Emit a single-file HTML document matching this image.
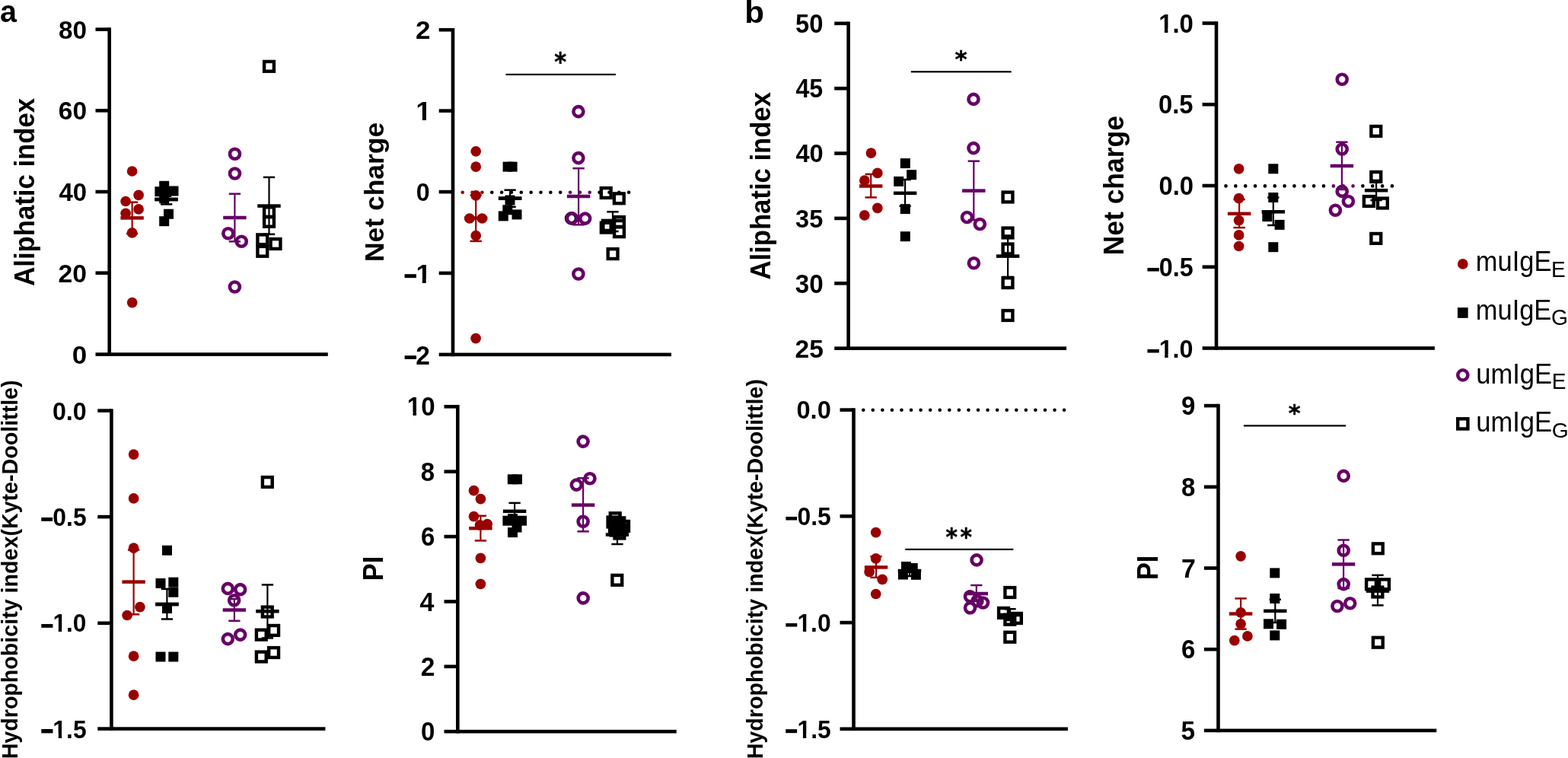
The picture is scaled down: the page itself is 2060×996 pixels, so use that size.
<!DOCTYPE html>
<html><head><meta charset="utf-8"><title>Figure</title>
<style>
html,body{margin:0;padding:0;background:#fff;}
body{width:2060px;height:996px;overflow:hidden;}
svg{display:block;}
text{font-family:"Liberation Sans",Arial,Helvetica,sans-serif;}
</style></head><body>
<svg width="2060" height="996" viewBox="0 0 2060 996">
<rect width="2060" height="996" fill="#fff"/>
<defs><clipPath id="c1" clipPathUnits="userSpaceOnUse"><rect x="-34.64" y="-69.28" width="415.65" height="64.24"/><rect x="8.07" y="-69.28" width="4.78" height="103.91"/><rect x="19.27" y="-69.28" width="415.65" height="103.91"/></clipPath><clipPath id="c2" clipPathUnits="userSpaceOnUse"><rect x="-34.64" y="-69.28" width="415.65" height="64.24"/><rect x="8.07" y="-69.28" width="4.78" height="103.91"/><rect x="19.27" y="-69.28" width="415.65" height="103.91"/></clipPath><clipPath id="c3" clipPathUnits="userSpaceOnUse"><rect x="-34.65" y="-69.3" width="415.77" height="64.26"/><rect x="8.07" y="-69.3" width="4.78" height="103.94"/><rect x="19.27" y="-69.3" width="415.77" height="103.94"/></clipPath><clipPath id="c4" clipPathUnits="userSpaceOnUse"><rect x="-33.66" y="-67.32" width="403.94" height="62.39"/><rect x="7.84" y="-67.32" width="4.65" height="100.99"/><rect x="18.72" y="-67.32" width="403.94" height="100.99"/></clipPath><clipPath id="c5" clipPathUnits="userSpaceOnUse"><rect x="-33.52" y="-67.04" width="402.25" height="62.12"/><rect x="7.81" y="-67.04" width="4.63" height="100.56"/><rect x="18.64" y="-67.04" width="402.25" height="100.56"/></clipPath><clipPath id="c6" clipPathUnits="userSpaceOnUse"><rect x="-34" y="-68" width="408" height="63.03"/><rect x="7.92" y="-68" width="4.69" height="102"/><rect x="18.91" y="-68" width="408" height="102"/></clipPath><clipPath id="c7" clipPathUnits="userSpaceOnUse"><rect x="-34.37" y="-68.73" width="412.39" height="63.73"/><rect x="8.01" y="-68.73" width="4.74" height="103.1"/><rect x="19.11" y="-68.73" width="412.39" height="103.1"/></clipPath><clipPath id="c8" clipPathUnits="userSpaceOnUse"><rect x="-33.1" y="-66.2" width="397.18" height="61.32"/><rect x="7.71" y="-66.2" width="4.57" height="99.3"/><rect x="18.41" y="-66.2" width="397.18" height="99.3"/></clipPath><clipPath id="c9" clipPathUnits="userSpaceOnUse"><rect x="-34.14" y="-68.29" width="409.71" height="63.3"/><rect x="7.96" y="-68.29" width="4.71" height="102.43"/><rect x="18.99" y="-68.29" width="409.71" height="102.43"/></clipPath></defs>
<text transform="translate(0.02 29.29) scale(0.9641 1)" font-size="40.91" font-weight="700" fill="#000000">a</text>
<text transform="translate(978.16 29.5) scale(1.0491 1)" font-size="40.2" font-weight="700" fill="#000000">b</text>
<rect x="141.4" y="36.3" width="4.6" height="431.6" fill="#000000"/>
<rect x="125.5" y="463.3" width="305.3" height="4.6" fill="#000000"/>
<rect x="125.5" y="36.3" width="18.2" height="4.6" fill="#000000"/>
<rect x="125.5" y="143" width="18.2" height="4.6" fill="#000000"/>
<rect x="125.5" y="249.7" width="18.2" height="4.6" fill="#000000"/>
<rect x="125.5" y="356.4" width="18.2" height="4.6" fill="#000000"/>
<text transform="translate(77 50.86) scale(0.9789 1)" font-size="34.08" font-weight="700" fill="#000000">80</text>
<text transform="translate(76.83 157.46) scale(0.9960 1)" font-size="33.66" font-weight="700" fill="#000000">60</text>
<text transform="translate(77.51 264.16) scale(0.9771 1)" font-size="33.66" font-weight="700" fill="#000000">40</text>
<text transform="translate(76.62 371.07) scale(1.0145 1)" font-size="33.24" font-weight="700" fill="#000000">20</text>
<text transform="translate(94.7 477.96) scale(1.0296 1)" font-size="33.94" font-weight="700" fill="#000000">0</text>
<text transform="translate(44.73 375.77) rotate(-90) scale(0.9631 1)" font-size="36.04" font-weight="700" fill="#000000">Aliphatic index</text>
<line x1="173.6" y1="265.7" x2="173.6" y2="306.9" stroke="#990000" stroke-width="2.2" stroke-linecap="butt"/>
<rect x="165.95" y="264.45" width="15.3" height="2.5" fill="#990000"/>
<rect x="165.95" y="305.65" width="15.3" height="2.5" fill="#990000"/>
<rect x="158.4" y="284.15" width="30.4" height="4.5" fill="#990000"/>
<circle cx="173.6" cy="225" r="6.85" fill="#990000"/>
<circle cx="182.1" cy="256.4" r="6.85" fill="#990000"/>
<circle cx="165.1" cy="264.5" r="6.85" fill="#990000"/>
<circle cx="182.1" cy="274.9" r="6.85" fill="#990000"/>
<circle cx="165.1" cy="280.3" r="6.85" fill="#990000"/>
<circle cx="173.6" cy="305.9" r="6.85" fill="#990000"/>
<circle cx="173.7" cy="397.6" r="6.85" fill="#990000"/>
<line x1="218.6" y1="255.6" x2="218.6" y2="268.4" stroke="#000000" stroke-width="2.2" stroke-linecap="butt"/>
<rect x="210.95" y="254.35" width="15.3" height="2.5" fill="#000000"/>
<rect x="210.95" y="267.15" width="15.3" height="2.5" fill="#000000"/>
<rect x="203.4" y="259.75" width="30.4" height="4.5" fill="#000000"/>
<rect x="209.2" y="237.8" width="13" height="13" fill="#000000"/>
<rect x="203.4" y="245.2" width="13" height="13" fill="#000000"/>
<rect x="221.5" y="244.5" width="13" height="13" fill="#000000"/>
<rect x="209.2" y="254.2" width="13" height="13" fill="#000000"/>
<rect x="215" y="274.7" width="13" height="13" fill="#000000"/>
<rect x="209.2" y="284.2" width="13" height="13" fill="#000000"/>
<rect x="212.1" y="246" width="13" height="13" fill="#000000"/>
<rect x="203.4" y="259.75" width="30.4" height="4.5" fill="#000000"/>
<line x1="308.4" y1="254.7" x2="308.4" y2="317.3" stroke="#660066" stroke-width="2.2" stroke-linecap="butt"/>
<rect x="300.75" y="253.45" width="15.3" height="2.5" fill="#660066"/>
<rect x="300.75" y="316.05" width="15.3" height="2.5" fill="#660066"/>
<rect x="293.2" y="283.75" width="30.4" height="4.5" fill="#660066"/>
<circle cx="308.5" cy="202.2" r="6.5" fill="none" stroke="#660066" stroke-width="4.6"/>
<circle cx="308.5" cy="228" r="6.5" fill="none" stroke="#660066" stroke-width="4.6"/>
<circle cx="299.8" cy="306.7" r="6.5" fill="none" stroke="#660066" stroke-width="4.6"/>
<circle cx="317.3" cy="317.2" r="6.5" fill="none" stroke="#660066" stroke-width="4.6"/>
<circle cx="308.4" cy="377" r="6.5" fill="none" stroke="#660066" stroke-width="4.6"/>
<line x1="353.5" y1="232.9" x2="353.5" y2="307.8" stroke="#000000" stroke-width="2.2" stroke-linecap="butt"/>
<rect x="345.85" y="231.65" width="15.3" height="2.5" fill="#000000"/>
<rect x="345.85" y="306.55" width="15.3" height="2.5" fill="#000000"/>
<rect x="338.3" y="268.35" width="30.4" height="4.5" fill="#000000"/>
<rect x="347.1" y="80.9" width="12.8" height="12.8" fill="none" stroke="#000000" stroke-width="4.4"/>
<rect x="347.1" y="272.3" width="12.8" height="12.8" fill="none" stroke="#000000" stroke-width="4.4"/>
<rect x="347.1" y="284.9" width="12.8" height="12.8" fill="none" stroke="#000000" stroke-width="4.4"/>
<rect x="338.4" y="308.4" width="12.8" height="12.8" fill="none" stroke="#000000" stroke-width="4.4"/>
<rect x="338.4" y="323.9" width="12.8" height="12.8" fill="none" stroke="#000000" stroke-width="4.4"/>
<rect x="355.6" y="314.1" width="12.8" height="12.8" fill="none" stroke="#000000" stroke-width="4.4"/>
<rect x="592.7" y="37" width="4.6" height="431.2" fill="#000000"/>
<rect x="576.7" y="463.6" width="305.3" height="4.6" fill="#000000"/>
<rect x="576.7" y="36.9" width="18.3" height="4.6" fill="#000000"/>
<rect x="576.7" y="143.3" width="18.3" height="4.6" fill="#000000"/>
<rect x="576.7" y="249.8" width="18.3" height="4.6" fill="#000000"/>
<rect x="576.7" y="356.6" width="18.3" height="4.6" fill="#000000"/>
<text transform="translate(545.88 51.4) scale(1.0251 1)" font-size="34.14" font-weight="700" fill="#000000">2</text>
<text transform="translate(546.21 157.9) scale(1.0682 1)" font-size="34.64" font-weight="700" fill="#000000" clip-path="url(#c1)">1</text>
<text transform="translate(546.81 264.36) scale(0.9609 1)" font-size="33.52" font-weight="700" fill="#000000">0</text>
<text transform="translate(546.38 371.7) scale(1.0393 1)" font-size="34.64" font-weight="700" fill="#000000" clip-path="url(#c2)">1</text>
<text transform="translate(530.17 378) scale(0.6752 1)" font-size="45.45" font-weight="700" fill="#000000">−</text>
<text transform="translate(546.13 478.5) scale(0.9742 1)" font-size="34.43" font-weight="700" fill="#000000">2</text>
<text transform="translate(530.17 484.1) scale(0.7034 1)" font-size="43.64" font-weight="700" fill="#000000">−</text>
<text transform="translate(504.35 344) rotate(-90) scale(0.9862 1)" font-size="35.94" font-weight="700" fill="#000000">Net charge</text>
<rect x="664.5" y="96.8" width="144.4" height="2.2" fill="#000000"/>
<text transform="translate(728.29 92.55) scale(0.9244 1)" font-size="32.9" font-weight="700" fill="#000000" style="font-family:'DejaVu Sans'" stroke="#000000" stroke-width="0.5">*</text>
<circle cx="607.7" cy="252.7" r="2.3" fill="#990000"/>
<circle cx="620.55" cy="252.7" r="2.3" fill="#990000"/>
<circle cx="633.4" cy="252.7" r="2.3" fill="#990000"/>
<circle cx="646.25" cy="252.7" r="2.3" fill="#000000"/>
<circle cx="659.1" cy="252.7" r="2.3" fill="#000000"/>
<circle cx="671.95" cy="252.7" r="2.3" fill="#000000"/>
<circle cx="684.8" cy="252.7" r="2.3" fill="#000000"/>
<circle cx="697.65" cy="252.7" r="2.3" fill="#000000"/>
<circle cx="710.5" cy="252.7" r="2.3" fill="#000000"/>
<circle cx="723.35" cy="252.7" r="2.3" fill="#000000"/>
<circle cx="736.2" cy="252.7" r="2.3" fill="#000000"/>
<circle cx="749.05" cy="252.7" r="2.3" fill="#660066"/>
<circle cx="761.9" cy="252.7" r="2.3" fill="#660066"/>
<circle cx="774.75" cy="252.7" r="2.3" fill="#660066"/>
<circle cx="787.6" cy="252.7" r="2.3" fill="#000000"/>
<circle cx="800.45" cy="252.7" r="2.3" fill="#000000"/>
<circle cx="813.3" cy="252.7" r="2.3" fill="#000000"/>
<circle cx="826.15" cy="252.7" r="2.3" fill="#000000"/>
<line x1="625.2" y1="256.5" x2="625.2" y2="316.9" stroke="#990000" stroke-width="2.2" stroke-linecap="butt"/>
<rect x="617.55" y="255.25" width="15.3" height="2.5" fill="#990000"/>
<rect x="617.55" y="315.65" width="15.3" height="2.5" fill="#990000"/>
<rect x="610" y="284.25" width="30.4" height="4.5" fill="#990000"/>
<circle cx="625.2" cy="198.8" r="6.85" fill="#990000"/>
<circle cx="625.2" cy="219.2" r="6.85" fill="#990000"/>
<circle cx="625.2" cy="256.9" r="6.85" fill="#990000"/>
<circle cx="616.9" cy="287" r="6.85" fill="#990000"/>
<circle cx="633.4" cy="287" r="6.85" fill="#990000"/>
<circle cx="625.2" cy="309.7" r="6.85" fill="#990000"/>
<circle cx="625.1" cy="444.6" r="6.85" fill="#990000"/>
<line x1="670.1" y1="249.7" x2="670.1" y2="271.8" stroke="#000000" stroke-width="2.2" stroke-linecap="butt"/>
<rect x="662.45" y="248.45" width="15.3" height="2.5" fill="#000000"/>
<rect x="662.45" y="270.55" width="15.3" height="2.5" fill="#000000"/>
<rect x="654.9" y="258.45" width="30.4" height="4.5" fill="#000000"/>
<rect x="660.6" y="212.6" width="13" height="13" fill="#000000"/>
<rect x="666.6" y="212.6" width="13" height="13" fill="#000000"/>
<rect x="663.5" y="256.5" width="13" height="13" fill="#000000"/>
<rect x="660.3" y="269.3" width="13" height="13" fill="#000000"/>
<rect x="654.8" y="277.4" width="13" height="13" fill="#000000"/>
<rect x="672.5" y="275.4" width="13" height="13" fill="#000000"/>
<rect x="654.9" y="258.45" width="30.4" height="4.5" fill="#000000"/>
<circle cx="750.6" cy="286.9" r="6.5" fill="none" stroke="#000000" stroke-width="4.6"/>
<line x1="760.1" y1="221.2" x2="760.1" y2="295.3" stroke="#660066" stroke-width="2.2" stroke-linecap="butt"/>
<rect x="752.45" y="219.95" width="15.3" height="2.5" fill="#660066"/>
<rect x="752.45" y="294.05" width="15.3" height="2.5" fill="#660066"/>
<rect x="744.9" y="255.75" width="30.4" height="4.5" fill="#660066"/>
<circle cx="759.9" cy="146.6" r="6.5" fill="none" stroke="#660066" stroke-width="4.6"/>
<circle cx="759.9" cy="207.6" r="6.5" fill="none" stroke="#660066" stroke-width="4.6"/>
<circle cx="751.5" cy="286.9" r="6.5" fill="none" stroke="#660066" stroke-width="4.6"/>
<circle cx="768.7" cy="287.1" r="6.5" fill="none" stroke="#660066" stroke-width="4.6"/>
<circle cx="759.9" cy="360" r="6.5" fill="none" stroke="#660066" stroke-width="4.6"/>
<line x1="805" y1="278.3" x2="805" y2="304" stroke="#000000" stroke-width="2.2" stroke-linecap="butt"/>
<rect x="797.35" y="277.05" width="15.3" height="2.5" fill="#000000"/>
<rect x="797.35" y="302.75" width="15.3" height="2.5" fill="#000000"/>
<rect x="789.8" y="287.75" width="30.4" height="4.5" fill="#000000"/>
<rect x="789.8" y="247.1" width="12.8" height="12.8" fill="none" stroke="#000000" stroke-width="4.4"/>
<rect x="806.9" y="254.4" width="12.8" height="12.8" fill="none" stroke="#000000" stroke-width="4.4"/>
<rect x="792.4" y="290.1" width="12.8" height="12.8" fill="none" stroke="#000000" stroke-width="4.4"/>
<rect x="789.9" y="292.7" width="12.8" height="12.8" fill="none" stroke="#000000" stroke-width="4.4"/>
<rect x="807.1" y="285.1" width="12.8" height="12.8" fill="none" stroke="#000000" stroke-width="4.4"/>
<rect x="807.1" y="298.3" width="12.8" height="12.8" fill="none" stroke="#000000" stroke-width="4.4"/>
<rect x="798.7" y="327.2" width="12.8" height="12.8" fill="none" stroke="#000000" stroke-width="4.4"/>
<rect x="1112.3" y="28.5" width="4.6" height="431.5" fill="#000000"/>
<rect x="1096.2" y="455.4" width="304.9" height="4.6" fill="#000000"/>
<rect x="1096.2" y="28.5" width="18.4" height="4.6" fill="#000000"/>
<rect x="1096.2" y="113.9" width="18.4" height="4.6" fill="#000000"/>
<rect x="1096.2" y="199.2" width="18.4" height="4.6" fill="#000000"/>
<rect x="1096.2" y="284.6" width="18.4" height="4.6" fill="#000000"/>
<rect x="1096.2" y="370" width="18.4" height="4.6" fill="#000000"/>
<text transform="translate(1045.12 43.15) scale(0.9474 1)" font-size="34.51" font-weight="700" fill="#000000">50</text>
<text transform="translate(1045.42 127.96) scale(0.9377 1)" font-size="34.29" font-weight="700" fill="#000000">45</text>
<text transform="translate(1045.41 213.26) scale(0.9646 1)" font-size="33.8" font-weight="700" fill="#000000">40</text>
<text transform="translate(1045.09 298.66) scale(0.9601 1)" font-size="33.8" font-weight="700" fill="#000000">35</text>
<text transform="translate(1044.87 384.95) scale(0.9595 1)" font-size="34.51" font-weight="700" fill="#000000">30</text>
<text transform="translate(1044.53 470.16) scale(0.9959 1)" font-size="33.66" font-weight="700" fill="#000000">25</text>
<text transform="translate(1012.39 367.57) rotate(-90) scale(0.9563 1)" font-size="36.26" font-weight="700" fill="#000000">Aliphatic index</text>
<rect x="1196.8" y="93.2" width="131.9" height="2.2" fill="#000000"/>
<text transform="translate(1254.38 88.32) scale(0.9957 1)" font-size="30.97" font-weight="700" fill="#000000" style="font-family:'DejaVu Sans'" stroke="#000000" stroke-width="0.5">*</text>
<line x1="1144.2" y1="228.9" x2="1144.2" y2="259.4" stroke="#990000" stroke-width="2.2" stroke-linecap="butt"/>
<rect x="1136.55" y="227.65" width="15.3" height="2.5" fill="#990000"/>
<rect x="1136.55" y="258.15" width="15.3" height="2.5" fill="#990000"/>
<rect x="1129" y="242.25" width="30.4" height="4.5" fill="#990000"/>
<circle cx="1144.4" cy="201.1" r="6.85" fill="#990000"/>
<circle cx="1152.8" cy="227.4" r="6.85" fill="#990000"/>
<circle cx="1135.8" cy="237.2" r="6.85" fill="#990000"/>
<circle cx="1152.8" cy="273.4" r="6.85" fill="#990000"/>
<circle cx="1135.8" cy="282.9" r="6.85" fill="#990000"/>
<line x1="1189.1" y1="236" x2="1189.1" y2="270.8" stroke="#000000" stroke-width="2.2" stroke-linecap="butt"/>
<rect x="1181.45" y="234.75" width="15.3" height="2.5" fill="#000000"/>
<rect x="1181.45" y="269.55" width="15.3" height="2.5" fill="#000000"/>
<rect x="1173.9" y="251.55" width="30.4" height="4.5" fill="#000000"/>
<rect x="1182.8" y="208.1" width="13" height="13" fill="#000000"/>
<rect x="1191.1" y="223.2" width="13" height="13" fill="#000000"/>
<rect x="1174.2" y="231.9" width="13" height="13" fill="#000000"/>
<rect x="1182.8" y="268.1" width="13" height="13" fill="#000000"/>
<rect x="1182.8" y="304.2" width="13" height="13" fill="#000000"/>
<line x1="1279.3" y1="211.7" x2="1279.3" y2="289" stroke="#660066" stroke-width="2.2" stroke-linecap="butt"/>
<rect x="1271.65" y="210.45" width="15.3" height="2.5" fill="#660066"/>
<rect x="1271.65" y="287.75" width="15.3" height="2.5" fill="#660066"/>
<rect x="1264.1" y="248.35" width="30.4" height="4.5" fill="#660066"/>
<circle cx="1279" cy="130.4" r="6.5" fill="none" stroke="#660066" stroke-width="4.6"/>
<circle cx="1279" cy="194.6" r="6.5" fill="none" stroke="#660066" stroke-width="4.6"/>
<circle cx="1270.5" cy="285.5" r="6.5" fill="none" stroke="#660066" stroke-width="4.6"/>
<circle cx="1287.3" cy="294.5" r="6.5" fill="none" stroke="#660066" stroke-width="4.6"/>
<circle cx="1279.4" cy="345.8" r="6.5" fill="none" stroke="#660066" stroke-width="4.6"/>
<line x1="1324.1" y1="309.5" x2="1324.1" y2="363.9" stroke="#000000" stroke-width="2.2" stroke-linecap="butt"/>
<rect x="1316.45" y="308.25" width="15.3" height="2.5" fill="#000000"/>
<rect x="1316.45" y="362.65" width="15.3" height="2.5" fill="#000000"/>
<rect x="1308.9" y="334.35" width="30.4" height="4.5" fill="#000000"/>
<rect x="1317.6" y="252.6" width="12.8" height="12.8" fill="none" stroke="#000000" stroke-width="4.4"/>
<rect x="1317.6" y="299.6" width="12.8" height="12.8" fill="none" stroke="#000000" stroke-width="4.4"/>
<rect x="1317.6" y="320.6" width="12.8" height="12.8" fill="none" stroke="#000000" stroke-width="4.4"/>
<rect x="1317.6" y="365.2" width="12.8" height="12.8" fill="none" stroke="#000000" stroke-width="4.4"/>
<rect x="1317.6" y="408.1" width="12.8" height="12.8" fill="none" stroke="#000000" stroke-width="4.4"/>
<rect x="1595.7" y="28.2" width="4.6" height="431.6" fill="#000000"/>
<rect x="1579.6" y="455.2" width="305.3" height="4.6" fill="#000000"/>
<rect x="1579.6" y="28.2" width="18.4" height="4.6" fill="#000000"/>
<rect x="1579.6" y="134.95" width="18.4" height="4.6" fill="#000000"/>
<rect x="1579.6" y="241.7" width="18.4" height="4.6" fill="#000000"/>
<rect x="1579.6" y="348.45" width="18.4" height="4.6" fill="#000000"/>
<text transform="translate(1522.2 42.75) scale(0.9493 1)" font-size="34.65" font-weight="700" fill="#000000" clip-path="url(#c3)">1.0</text>
<text transform="translate(1522 149.46) scale(0.9550 1)" font-size="34.37" font-weight="700" fill="#000000">0.5</text>
<text transform="translate(1522.49 256.26) scale(0.9550 1)" font-size="34.37" font-weight="700" fill="#000000">0.0</text>
<text transform="translate(1522.81 363.16) scale(0.9438 1)" font-size="34.23" font-weight="700" fill="#000000">0.5</text>
<text transform="translate(1505.97 368.4) scale(0.7340 1)" font-size="41.82" font-weight="700" fill="#000000">−</text>
<text transform="translate(1522.64 469.56) scale(0.9608 1)" font-size="33.66" font-weight="700" fill="#000000" clip-path="url(#c4)">1.0</text>
<text transform="translate(1505.97 475) scale(0.7340 1)" font-size="41.82" font-weight="700" fill="#000000">−</text>
<text transform="translate(1476.11 335.41) rotate(-90) scale(0.9820 1)" font-size="36.15" font-weight="700" fill="#000000">Net charge</text>
<circle cx="1610.5" cy="244.4" r="2.3" fill="#000000"/>
<circle cx="1623.35" cy="244.4" r="2.3" fill="#000000"/>
<circle cx="1636.2" cy="244.4" r="2.3" fill="#000000"/>
<circle cx="1649.05" cy="244.4" r="2.3" fill="#000000"/>
<circle cx="1661.9" cy="244.4" r="2.3" fill="#000000"/>
<circle cx="1674.75" cy="244.4" r="2.3" fill="#000000"/>
<circle cx="1687.6" cy="244.4" r="2.3" fill="#000000"/>
<circle cx="1700.45" cy="244.4" r="2.3" fill="#000000"/>
<circle cx="1713.3" cy="244.4" r="2.3" fill="#000000"/>
<circle cx="1726.15" cy="244.4" r="2.3" fill="#000000"/>
<circle cx="1739" cy="244.4" r="2.3" fill="#000000"/>
<circle cx="1751.85" cy="244.4" r="2.3" fill="#660066"/>
<circle cx="1764.7" cy="244.4" r="2.3" fill="#660066"/>
<circle cx="1777.55" cy="244.4" r="2.3" fill="#660066"/>
<circle cx="1790.4" cy="244.4" r="2.3" fill="#000000"/>
<circle cx="1803.25" cy="244.4" r="2.3" fill="#000000"/>
<circle cx="1816.1" cy="244.4" r="2.3" fill="#000000"/>
<circle cx="1828.95" cy="244.4" r="2.3" fill="#000000"/>
<line x1="1628.1" y1="262" x2="1628.1" y2="299.1" stroke="#990000" stroke-width="2.2" stroke-linecap="butt"/>
<rect x="1620.45" y="260.75" width="15.3" height="2.5" fill="#990000"/>
<rect x="1620.45" y="297.85" width="15.3" height="2.5" fill="#990000"/>
<rect x="1612.9" y="278.55" width="30.4" height="4.5" fill="#990000"/>
<circle cx="1627.6" cy="221.8" r="6.85" fill="#990000"/>
<circle cx="1627.6" cy="260.7" r="6.85" fill="#990000"/>
<circle cx="1627.6" cy="289.6" r="6.85" fill="#990000"/>
<circle cx="1627.6" cy="308.9" r="6.85" fill="#990000"/>
<circle cx="1627.6" cy="323.5" r="6.85" fill="#990000"/>
<line x1="1672.8" y1="259.5" x2="1672.8" y2="296" stroke="#000000" stroke-width="2.2" stroke-linecap="butt"/>
<rect x="1665.15" y="258.25" width="15.3" height="2.5" fill="#000000"/>
<rect x="1665.15" y="294.75" width="15.3" height="2.5" fill="#000000"/>
<rect x="1657.6" y="276.05" width="30.4" height="4.5" fill="#000000"/>
<rect x="1666.3" y="215.3" width="13" height="13" fill="#000000"/>
<rect x="1666.3" y="253" width="13" height="13" fill="#000000"/>
<rect x="1658.3" y="278.1" width="13" height="13" fill="#000000"/>
<rect x="1674.6" y="288.9" width="13" height="13" fill="#000000"/>
<rect x="1666.3" y="318.2" width="13" height="13" fill="#000000"/>
<line x1="1762.9" y1="186.7" x2="1762.9" y2="249" stroke="#660066" stroke-width="2.2" stroke-linecap="butt"/>
<rect x="1755.25" y="185.45" width="15.3" height="2.5" fill="#660066"/>
<rect x="1755.25" y="247.75" width="15.3" height="2.5" fill="#660066"/>
<rect x="1747.7" y="215.75" width="30.4" height="4.5" fill="#660066"/>
<circle cx="1763.2" cy="104.3" r="6.5" fill="none" stroke="#660066" stroke-width="4.6"/>
<circle cx="1763.2" cy="196" r="6.5" fill="none" stroke="#660066" stroke-width="4.6"/>
<circle cx="1763.2" cy="251.4" r="6.5" fill="none" stroke="#660066" stroke-width="4.6"/>
<circle cx="1771.4" cy="264.5" r="6.5" fill="none" stroke="#660066" stroke-width="4.6"/>
<circle cx="1754.4" cy="276.3" r="6.5" fill="none" stroke="#660066" stroke-width="4.6"/>
<line x1="1808.1" y1="236.9" x2="1808.1" y2="263" stroke="#000000" stroke-width="2.2" stroke-linecap="butt"/>
<rect x="1800.45" y="235.65" width="15.3" height="2.5" fill="#000000"/>
<rect x="1800.45" y="261.75" width="15.3" height="2.5" fill="#000000"/>
<rect x="1792.9" y="247.95" width="30.4" height="4.5" fill="#000000"/>
<rect x="1801.4" y="166" width="12.8" height="12.8" fill="none" stroke="#000000" stroke-width="4.4"/>
<rect x="1801.4" y="226" width="12.8" height="12.8" fill="none" stroke="#000000" stroke-width="4.4"/>
<rect x="1791.9" y="258.1" width="12.8" height="12.8" fill="none" stroke="#000000" stroke-width="4.4"/>
<rect x="1810" y="260.6" width="12.8" height="12.8" fill="none" stroke="#000000" stroke-width="4.4"/>
<rect x="1801.4" y="307" width="12.8" height="12.8" fill="none" stroke="#000000" stroke-width="4.4"/>
<rect x="144.1" y="537.3" width="4.6" height="422.6" fill="#000000"/>
<rect x="128.3" y="955.3" width="299.1" height="4.6" fill="#000000"/>
<rect x="128.3" y="537.3" width="18.1" height="4.6" fill="#000000"/>
<rect x="128.3" y="676.8" width="18.1" height="4.6" fill="#000000"/>
<rect x="128.3" y="816.5" width="18.1" height="4.6" fill="#000000"/>
<text transform="translate(68.91 551.66) scale(0.9530 1)" font-size="33.8" font-weight="700" fill="#000000">0.0</text>
<text transform="translate(69.33 690.77) scale(0.9582 1)" font-size="33.24" font-weight="700" fill="#000000">0.5</text>
<text transform="translate(52.91 697.05) scale(0.6668 1)" font-size="44.55" font-weight="700" fill="#000000">−</text>
<text transform="translate(69.39 830.26) scale(0.9439 1)" font-size="33.52" font-weight="700" fill="#000000" clip-path="url(#c5)">1.0</text>
<text transform="translate(52.89 836.55) scale(0.6801 1)" font-size="44.55" font-weight="700" fill="#000000">−</text>
<text transform="translate(69.37 969.56) scale(0.9357 1)" font-size="34" font-weight="700" fill="#000000" clip-path="url(#c6)">1.5</text>
<text transform="translate(52.89 977.3) scale(0.6172 1)" font-size="49.09" font-weight="700" fill="#000000">−</text>
<text transform="translate(23.48 997.36) rotate(-90) scale(0.9672 1)" font-size="29.63" font-weight="700" fill="#000000">Hydrophobicity index(Kyte-Doolittle)</text>
<line x1="175.6" y1="722.6" x2="175.6" y2="807.3" stroke="#990000" stroke-width="2.2" stroke-linecap="butt"/>
<rect x="167.95" y="721.35" width="15.3" height="2.5" fill="#990000"/>
<rect x="167.95" y="806.05" width="15.3" height="2.5" fill="#990000"/>
<rect x="160.4" y="762.35" width="30.4" height="4.5" fill="#990000"/>
<circle cx="175.6" cy="597.1" r="6.85" fill="#990000"/>
<circle cx="175.6" cy="654.9" r="6.85" fill="#990000"/>
<circle cx="175.6" cy="720.1" r="6.85" fill="#990000"/>
<circle cx="183.9" cy="797.7" r="6.85" fill="#990000"/>
<circle cx="167.1" cy="808.5" r="6.85" fill="#990000"/>
<circle cx="175.6" cy="862.2" r="6.85" fill="#990000"/>
<circle cx="175.6" cy="913.2" r="6.85" fill="#990000"/>
<line x1="219.4" y1="773.9" x2="219.4" y2="813.5" stroke="#000000" stroke-width="2.2" stroke-linecap="butt"/>
<rect x="211.75" y="772.65" width="15.3" height="2.5" fill="#000000"/>
<rect x="211.75" y="812.25" width="15.3" height="2.5" fill="#000000"/>
<rect x="204.2" y="791.75" width="30.4" height="4.5" fill="#000000"/>
<rect x="213" y="716.7" width="13" height="13" fill="#000000"/>
<rect x="204.5" y="759.9" width="13" height="13" fill="#000000"/>
<rect x="221.3" y="758.6" width="13" height="13" fill="#000000"/>
<rect x="221.3" y="771.7" width="13" height="13" fill="#000000"/>
<rect x="213" y="793" width="13" height="13" fill="#000000"/>
<rect x="204.5" y="856.5" width="13" height="13" fill="#000000"/>
<rect x="221.3" y="856.5" width="13" height="13" fill="#000000"/>
<rect x="204.2" y="791.75" width="30.4" height="4.5" fill="#000000"/>
<line x1="307.9" y1="787" x2="307.9" y2="815.8" stroke="#660066" stroke-width="2.2" stroke-linecap="butt"/>
<rect x="300.25" y="785.75" width="15.3" height="2.5" fill="#660066"/>
<rect x="300.25" y="814.55" width="15.3" height="2.5" fill="#660066"/>
<rect x="292.7" y="799.25" width="30.4" height="4.5" fill="#660066"/>
<circle cx="299.3" cy="773.4" r="6.5" fill="none" stroke="#660066" stroke-width="4.6"/>
<circle cx="315.7" cy="774.6" r="6.5" fill="none" stroke="#660066" stroke-width="4.6"/>
<circle cx="307.6" cy="788.7" r="6.5" fill="none" stroke="#660066" stroke-width="4.6"/>
<circle cx="299.3" cy="839.6" r="6.5" fill="none" stroke="#660066" stroke-width="4.6"/>
<circle cx="315.7" cy="834.1" r="6.5" fill="none" stroke="#660066" stroke-width="4.6"/>
<line x1="351.4" y1="768.4" x2="351.4" y2="838.4" stroke="#000000" stroke-width="2.2" stroke-linecap="butt"/>
<rect x="343.75" y="767.15" width="15.3" height="2.5" fill="#000000"/>
<rect x="343.75" y="837.15" width="15.3" height="2.5" fill="#000000"/>
<rect x="336.2" y="800.95" width="30.4" height="4.5" fill="#000000"/>
<rect x="344.9" y="627.1" width="12.8" height="12.8" fill="none" stroke="#000000" stroke-width="4.4"/>
<rect x="344.9" y="797.6" width="12.8" height="12.8" fill="none" stroke="#000000" stroke-width="4.4"/>
<rect x="353.2" y="822" width="12.8" height="12.8" fill="none" stroke="#000000" stroke-width="4.4"/>
<rect x="336.9" y="827.7" width="12.8" height="12.8" fill="none" stroke="#000000" stroke-width="4.4"/>
<rect x="336.9" y="856.6" width="12.8" height="12.8" fill="none" stroke="#000000" stroke-width="4.4"/>
<rect x="353.2" y="851.1" width="12.8" height="12.8" fill="none" stroke="#000000" stroke-width="4.4"/>
<rect x="599" y="532" width="4.6" height="431.5" fill="#000000"/>
<rect x="583.5" y="958.9" width="305.2" height="4.6" fill="#000000"/>
<rect x="583.5" y="532" width="17.8" height="4.6" fill="#000000"/>
<rect x="583.5" y="617.38" width="17.8" height="4.6" fill="#000000"/>
<rect x="583.5" y="702.76" width="17.8" height="4.6" fill="#000000"/>
<rect x="583.5" y="788.14" width="17.8" height="4.6" fill="#000000"/>
<rect x="583.5" y="873.52" width="17.8" height="4.6" fill="#000000"/>
<text transform="translate(534.8 546.36) scale(0.9600 1)" font-size="34.37" font-weight="700" fill="#000000" clip-path="url(#c7)">10</text>
<text transform="translate(552.78 631.74) scale(0.9600 1)" font-size="34.37" font-weight="700" fill="#000000">8</text>
<text transform="translate(552.94 717.12) scale(0.9600 1)" font-size="34.37" font-weight="700" fill="#000000">6</text>
<text transform="translate(551.43 802.84) scale(0.9600 1)" font-size="35.36" font-weight="700" fill="#000000">4</text>
<text transform="translate(552.87 888.22) scale(0.9600 1)" font-size="34.86" font-weight="700" fill="#000000">2</text>
<text transform="translate(553.11 973.26) scale(0.9600 1)" font-size="34.37" font-weight="700" fill="#000000">0</text>
<text transform="translate(502.9 763.23) rotate(-90) scale(0.9108 1)" font-size="37.68" font-weight="700" fill="#000000">PI</text>
<line x1="631.4" y1="677.8" x2="631.4" y2="710.4" stroke="#990000" stroke-width="2.2" stroke-linecap="butt"/>
<rect x="623.75" y="676.55" width="15.3" height="2.5" fill="#990000"/>
<rect x="623.75" y="709.15" width="15.3" height="2.5" fill="#990000"/>
<rect x="616.2" y="691.95" width="30.4" height="4.5" fill="#990000"/>
<circle cx="622.5" cy="644.7" r="6.85" fill="#990000"/>
<circle cx="631.4" cy="655.7" r="6.85" fill="#990000"/>
<circle cx="622.5" cy="678.6" r="6.85" fill="#990000"/>
<circle cx="630.5" cy="689.9" r="6.85" fill="#990000"/>
<circle cx="640.2" cy="688.6" r="6.85" fill="#990000"/>
<circle cx="631.4" cy="733.4" r="6.85" fill="#990000"/>
<circle cx="631.4" cy="767.3" r="6.85" fill="#990000"/>
<line x1="676.1" y1="660.9" x2="676.1" y2="682" stroke="#000000" stroke-width="2.2" stroke-linecap="butt"/>
<rect x="668.45" y="659.65" width="15.3" height="2.5" fill="#000000"/>
<rect x="668.45" y="680.75" width="15.3" height="2.5" fill="#000000"/>
<rect x="660.9" y="669.55" width="30.4" height="4.5" fill="#000000"/>
<rect x="666.8" y="623.3" width="13" height="13" fill="#000000"/>
<rect x="673" y="623.3" width="13" height="13" fill="#000000"/>
<rect x="667" y="675.2" width="13" height="13" fill="#000000"/>
<rect x="660.4" y="677.7" width="13" height="13" fill="#000000"/>
<rect x="679" y="677.7" width="13" height="13" fill="#000000"/>
<rect x="672.5" y="686.5" width="13" height="13" fill="#000000"/>
<rect x="667" y="693.1" width="13" height="13" fill="#000000"/>
<line x1="766.1" y1="628.3" x2="766.1" y2="698.3" stroke="#660066" stroke-width="2.2" stroke-linecap="butt"/>
<rect x="758.45" y="627.05" width="15.3" height="2.5" fill="#660066"/>
<rect x="758.45" y="697.05" width="15.3" height="2.5" fill="#660066"/>
<rect x="750.9" y="661.35" width="30.4" height="4.5" fill="#660066"/>
<circle cx="766.1" cy="580.1" r="6.5" fill="none" stroke="#660066" stroke-width="4.6"/>
<circle cx="775" cy="628.8" r="6.5" fill="none" stroke="#660066" stroke-width="4.6"/>
<circle cx="757.3" cy="637.1" r="6.5" fill="none" stroke="#660066" stroke-width="4.6"/>
<circle cx="766.1" cy="685.3" r="6.5" fill="none" stroke="#660066" stroke-width="4.6"/>
<circle cx="766.2" cy="785.9" r="6.5" fill="none" stroke="#660066" stroke-width="4.6"/>
<line x1="811" y1="688" x2="811" y2="715" stroke="#000000" stroke-width="2.2" stroke-linecap="butt"/>
<rect x="803.35" y="686.75" width="15.3" height="2.5" fill="#000000"/>
<rect x="803.35" y="713.75" width="15.3" height="2.5" fill="#000000"/>
<rect x="795.8" y="700.25" width="30.4" height="4.5" fill="#000000"/>
<rect x="801.8" y="674.3" width="12.8" height="12.8" fill="none" stroke="#000000" stroke-width="4.4"/>
<rect x="807.4" y="680.4" width="12.8" height="12.8" fill="none" stroke="#000000" stroke-width="4.4"/>
<rect x="813.2" y="685" width="12.8" height="12.8" fill="none" stroke="#000000" stroke-width="4.4"/>
<rect x="801.1" y="685.6" width="12.8" height="12.8" fill="none" stroke="#000000" stroke-width="4.4"/>
<rect x="807.5" y="694.6" width="12.8" height="12.8" fill="none" stroke="#000000" stroke-width="4.4"/>
<rect x="804.4" y="755.9" width="12.8" height="12.8" fill="none" stroke="#000000" stroke-width="4.4"/>
<rect x="805.6" y="683.6" width="12.8" height="12.8" fill="none" stroke="#000000" stroke-width="4.4"/>
<rect x="809.6" y="689.6" width="12.8" height="12.8" fill="none" stroke="#000000" stroke-width="4.4"/>
<rect x="798.6" y="679.6" width="12.8" height="12.8" fill="none" stroke="#000000" stroke-width="4.4"/>
<rect x="802.6" y="690.6" width="12.8" height="12.8" fill="none" stroke="#000000" stroke-width="4.4"/>
<rect x="1119.2" y="536.3" width="4.6" height="423.8" fill="#000000"/>
<rect x="1103.5" y="955.5" width="299.4" height="4.6" fill="#000000"/>
<rect x="1103.5" y="536.3" width="18" height="4.6" fill="#000000"/>
<rect x="1103.5" y="676" width="18" height="4.6" fill="#000000"/>
<rect x="1103.5" y="815.8" width="18" height="4.6" fill="#000000"/>
<text transform="translate(1046.5 550.46) scale(0.9643 1)" font-size="33.8" font-weight="700" fill="#000000">0.0</text>
<text transform="translate(1047.43 690.16) scale(0.9461 1)" font-size="33.66" font-weight="700" fill="#000000">0.5</text>
<text transform="translate(1031.02 695.4) scale(0.7056 1)" font-size="41.82" font-weight="700" fill="#000000">−</text>
<text transform="translate(1047.48 829.57) scale(0.9583 1)" font-size="33.1" font-weight="700" fill="#000000" clip-path="url(#c8)">1.0</text>
<text transform="translate(1031.01 835.2) scale(0.7103 1)" font-size="41.82" font-weight="700" fill="#000000">−</text>
<text transform="translate(1047.47 969.56) scale(0.9318 1)" font-size="34.14" font-weight="700" fill="#000000" clip-path="url(#c9)">1.5</text>
<text transform="translate(1031.01 976) scale(0.6535 1)" font-size="45.45" font-weight="700" fill="#000000">−</text>
<text transform="translate(1001.51 997.37) rotate(-90) scale(0.9592 1)" font-size="29.95" font-weight="700" fill="#000000">Hydrophobicity index(Kyte-Doolittle)</text>
<circle cx="1134.2" cy="538.7" r="2.3" fill="#000000"/>
<circle cx="1146.77" cy="538.7" r="2.3" fill="#000000"/>
<circle cx="1159.33" cy="538.7" r="2.3" fill="#000000"/>
<circle cx="1171.9" cy="538.7" r="2.3" fill="#000000"/>
<circle cx="1184.47" cy="538.7" r="2.3" fill="#000000"/>
<circle cx="1197.04" cy="538.7" r="2.3" fill="#000000"/>
<circle cx="1209.6" cy="538.7" r="2.3" fill="#000000"/>
<circle cx="1222.17" cy="538.7" r="2.3" fill="#000000"/>
<circle cx="1234.74" cy="538.7" r="2.3" fill="#000000"/>
<circle cx="1247.3" cy="538.7" r="2.3" fill="#000000"/>
<circle cx="1259.87" cy="538.7" r="2.3" fill="#000000"/>
<circle cx="1272.44" cy="538.7" r="2.3" fill="#000000"/>
<circle cx="1285" cy="538.7" r="2.3" fill="#000000"/>
<circle cx="1297.57" cy="538.7" r="2.3" fill="#000000"/>
<circle cx="1310.14" cy="538.7" r="2.3" fill="#000000"/>
<circle cx="1322.7" cy="538.7" r="2.3" fill="#000000"/>
<circle cx="1335.27" cy="538.7" r="2.3" fill="#000000"/>
<circle cx="1347.84" cy="538.7" r="2.3" fill="#000000"/>
<circle cx="1360.41" cy="538.7" r="2.3" fill="#000000"/>
<circle cx="1372.97" cy="538.7" r="2.3" fill="#000000"/>
<circle cx="1385.54" cy="538.7" r="2.3" fill="#000000"/>
<circle cx="1398.11" cy="538.7" r="2.3" fill="#000000"/>
<rect x="1189.3" y="720.8" width="142" height="2.2" fill="#000000"/>
<text transform="translate(1242.41 716.39) scale(0.9325 1)" font-size="31.61" font-weight="700" fill="#000000" style="font-family:'DejaVu Sans'" stroke="#000000" stroke-width="0.5">*</text>
<text transform="translate(1261.56 716.39) scale(0.9325 1)" font-size="31.61" font-weight="700" fill="#000000" style="font-family:'DejaVu Sans'" stroke="#000000" stroke-width="0.5">*</text>
<line x1="1151" y1="731.3" x2="1151" y2="758.8" stroke="#990000" stroke-width="2.2" stroke-linecap="butt"/>
<rect x="1143.35" y="730.05" width="15.3" height="2.5" fill="#990000"/>
<rect x="1143.35" y="757.55" width="15.3" height="2.5" fill="#990000"/>
<rect x="1135.8" y="743.15" width="30.4" height="4.5" fill="#990000"/>
<circle cx="1150.7" cy="699.6" r="6.85" fill="#990000"/>
<circle cx="1150.7" cy="733.9" r="6.85" fill="#990000"/>
<circle cx="1142.1" cy="751.4" r="6.85" fill="#990000"/>
<circle cx="1159.2" cy="761.4" r="6.85" fill="#990000"/>
<circle cx="1150.7" cy="780.5" r="6.85" fill="#990000"/>
<line x1="1195" y1="745" x2="1195" y2="757" stroke="#000000" stroke-width="2.2" stroke-linecap="butt"/>
<rect x="1187.35" y="743.75" width="15.3" height="2.5" fill="#000000"/>
<rect x="1187.35" y="755.75" width="15.3" height="2.5" fill="#000000"/>
<rect x="1179.8" y="747.75" width="30.4" height="4.5" fill="#000000"/>
<rect x="1184" y="738" width="13" height="13" fill="#000000"/>
<rect x="1192.7" y="740" width="13" height="13" fill="#000000"/>
<rect x="1179.9" y="748.5" width="13" height="13" fill="#000000"/>
<rect x="1196.9" y="748.8" width="13" height="13" fill="#000000"/>
<line x1="1282.8" y1="769" x2="1282.8" y2="790" stroke="#660066" stroke-width="2.2" stroke-linecap="butt"/>
<rect x="1275.15" y="767.75" width="15.3" height="2.5" fill="#660066"/>
<rect x="1275.15" y="788.75" width="15.3" height="2.5" fill="#660066"/>
<rect x="1267.6" y="777.75" width="30.4" height="4.5" fill="#660066"/>
<circle cx="1274.5" cy="783.9" r="6.5" fill="none" stroke="#660066" stroke-width="4.6"/>
<circle cx="1283.9" cy="789.8" r="6.5" fill="none" stroke="#660066" stroke-width="4.6"/>
<circle cx="1291.5" cy="792" r="6.5" fill="none" stroke="#660066" stroke-width="4.6"/>
<circle cx="1274.5" cy="798.8" r="6.5" fill="none" stroke="#660066" stroke-width="4.6"/>
<circle cx="1283.1" cy="735.9" r="6.5" fill="none" stroke="#660066" stroke-width="4.6"/>
<line x1="1327" y1="800.2" x2="1327" y2="815" stroke="#000000" stroke-width="2.2" stroke-linecap="butt"/>
<rect x="1319.35" y="798.95" width="15.3" height="2.5" fill="#000000"/>
<rect x="1319.35" y="813.75" width="15.3" height="2.5" fill="#000000"/>
<rect x="1311.8" y="805.75" width="30.4" height="4.5" fill="#000000"/>
<rect x="1320.4" y="772.1" width="12.8" height="12.8" fill="none" stroke="#000000" stroke-width="4.4"/>
<rect x="1312.1" y="799" width="12.8" height="12.8" fill="none" stroke="#000000" stroke-width="4.4"/>
<rect x="1329" y="806" width="12.8" height="12.8" fill="none" stroke="#000000" stroke-width="4.4"/>
<rect x="1320.4" y="807.8" width="12.8" height="12.8" fill="none" stroke="#000000" stroke-width="4.4"/>
<rect x="1320.4" y="830.8" width="12.8" height="12.8" fill="none" stroke="#000000" stroke-width="4.4"/>
<rect x="1598.2" y="530.8" width="4.6" height="431.4" fill="#000000"/>
<rect x="1581.9" y="957.6" width="305.4" height="4.6" fill="#000000"/>
<rect x="1581.9" y="530.8" width="18.6" height="4.6" fill="#000000"/>
<rect x="1581.9" y="637.5" width="18.6" height="4.6" fill="#000000"/>
<rect x="1581.9" y="744.2" width="18.6" height="4.6" fill="#000000"/>
<rect x="1581.9" y="850.9" width="18.6" height="4.6" fill="#000000"/>
<text transform="translate(1552.04 545.26) scale(0.9600 1)" font-size="34.37" font-weight="700" fill="#000000">9</text>
<text transform="translate(1551.88 651.96) scale(0.9600 1)" font-size="34.37" font-weight="700" fill="#000000">8</text>
<text transform="translate(1551.89 759) scale(0.9600 1)" font-size="35.36" font-weight="700" fill="#000000">7</text>
<text transform="translate(1552.04 865.36) scale(0.9600 1)" font-size="34.37" font-weight="700" fill="#000000">6</text>
<text transform="translate(1551.46 972.05) scale(0.9600 1)" font-size="34.86" font-weight="700" fill="#000000">5</text>
<text transform="translate(1521.3 762.02) rotate(-90) scale(0.9006 1)" font-size="37.97" font-weight="700" fill="#000000">PI</text>
<rect x="1633.9" y="558.3" width="134.3" height="2.2" fill="#000000"/>
<text transform="translate(1692.8 553.26) scale(1.0179 1)" font-size="29.68" font-weight="700" fill="#000000" style="font-family:'DejaVu Sans'" stroke="#000000" stroke-width="0.5">*</text>
<line x1="1630.1" y1="786.4" x2="1630.1" y2="826.6" stroke="#990000" stroke-width="2.2" stroke-linecap="butt"/>
<rect x="1622.45" y="785.15" width="15.3" height="2.5" fill="#990000"/>
<rect x="1622.45" y="825.35" width="15.3" height="2.5" fill="#990000"/>
<rect x="1614.9" y="804.25" width="30.4" height="4.5" fill="#990000"/>
<circle cx="1630.1" cy="730.8" r="6.85" fill="#990000"/>
<circle cx="1630.1" cy="804.8" r="6.85" fill="#990000"/>
<circle cx="1630.1" cy="819.8" r="6.85" fill="#990000"/>
<circle cx="1621.8" cy="841.7" r="6.85" fill="#990000"/>
<circle cx="1638.9" cy="835.9" r="6.85" fill="#990000"/>
<line x1="1675.3" y1="787.7" x2="1675.3" y2="818" stroke="#000000" stroke-width="2.2" stroke-linecap="butt"/>
<rect x="1667.65" y="786.45" width="15.3" height="2.5" fill="#000000"/>
<rect x="1667.65" y="816.75" width="15.3" height="2.5" fill="#000000"/>
<rect x="1660.1" y="800.55" width="30.4" height="4.5" fill="#000000"/>
<rect x="1668.3" y="746.4" width="13" height="13" fill="#000000"/>
<rect x="1668.3" y="779.9" width="13" height="13" fill="#000000"/>
<rect x="1660" y="813.3" width="13" height="13" fill="#000000"/>
<rect x="1677.1" y="813.8" width="13" height="13" fill="#000000"/>
<rect x="1668.3" y="828.4" width="13" height="13" fill="#000000"/>
<line x1="1765.1" y1="709.5" x2="1765.1" y2="773" stroke="#660066" stroke-width="2.2" stroke-linecap="butt"/>
<rect x="1757.45" y="708.25" width="15.3" height="2.5" fill="#660066"/>
<rect x="1757.45" y="771.75" width="15.3" height="2.5" fill="#660066"/>
<rect x="1749.9" y="739.15" width="30.4" height="4.5" fill="#660066"/>
<circle cx="1765.2" cy="625.4" r="6.5" fill="none" stroke="#660066" stroke-width="4.6"/>
<circle cx="1765.2" cy="723.3" r="6.5" fill="none" stroke="#660066" stroke-width="4.6"/>
<circle cx="1765.2" cy="767.6" r="6.5" fill="none" stroke="#660066" stroke-width="4.6"/>
<circle cx="1756.9" cy="796.5" r="6.5" fill="none" stroke="#660066" stroke-width="4.6"/>
<circle cx="1773.7" cy="792.7" r="6.5" fill="none" stroke="#660066" stroke-width="4.6"/>
<line x1="1810" y1="755.8" x2="1810" y2="795.4" stroke="#000000" stroke-width="2.2" stroke-linecap="butt"/>
<rect x="1802.35" y="754.55" width="15.3" height="2.5" fill="#000000"/>
<rect x="1802.35" y="794.15" width="15.3" height="2.5" fill="#000000"/>
<rect x="1794.8" y="774.35" width="30.4" height="4.5" fill="#000000"/>
<rect x="1803.9" y="714.4" width="12.8" height="12.8" fill="none" stroke="#000000" stroke-width="4.4"/>
<rect x="1795.1" y="761.4" width="12.8" height="12.8" fill="none" stroke="#000000" stroke-width="4.4"/>
<rect x="1812.1" y="761.4" width="12.8" height="12.8" fill="none" stroke="#000000" stroke-width="4.4"/>
<rect x="1803.5" y="771.6" width="12.8" height="12.8" fill="none" stroke="#000000" stroke-width="4.4"/>
<rect x="1803.9" y="837.8" width="12.8" height="12.8" fill="none" stroke="#000000" stroke-width="4.4"/>
<circle cx="1921.8" cy="346.9" r="6.85" fill="#990000"/>
<rect x="1914.95" y="404.15" width="13.7" height="13.7" fill="#000000"/>
<circle cx="1921.8" cy="492.9" r="6.55" fill="none" stroke="#660066" stroke-width="4.5"/>
<rect x="1915.2" y="550.3" width="13.2" height="13.2" fill="none" stroke="#000000" stroke-width="4.4"/>
<text transform="translate(1938.86 355.8) scale(0.9391 1)" font-size="36.67" font-weight="400" fill="#000000">muIgE</text>
<text transform="translate(2037.95 363.5) scale(0.9495 1)" font-size="29.57" font-weight="400" fill="#000000">E</text>
<text transform="translate(1938.86 419.87) scale(0.9477 1)" font-size="36.33" font-weight="400" fill="#000000">muIgE</text>
<text transform="translate(2037.99 427.41) scale(0.9595 1)" font-size="29.44" font-weight="400" fill="#000000">G</text>
<text transform="translate(1939.15 503.72) scale(0.9469 1)" font-size="36.56" font-weight="400" fill="#000000">umIgE</text>
<text transform="translate(2038.75 511.4) scale(0.9637 1)" font-size="29.13" font-weight="400" fill="#000000">E</text>
<text transform="translate(1939.15 567.37) scale(0.9527 1)" font-size="36.33" font-weight="400" fill="#000000">umIgE</text>
<text transform="translate(2038.79 574.62) scale(0.9977 1)" font-size="28.31" font-weight="400" fill="#000000">G</text>
</svg>
</body></html>
